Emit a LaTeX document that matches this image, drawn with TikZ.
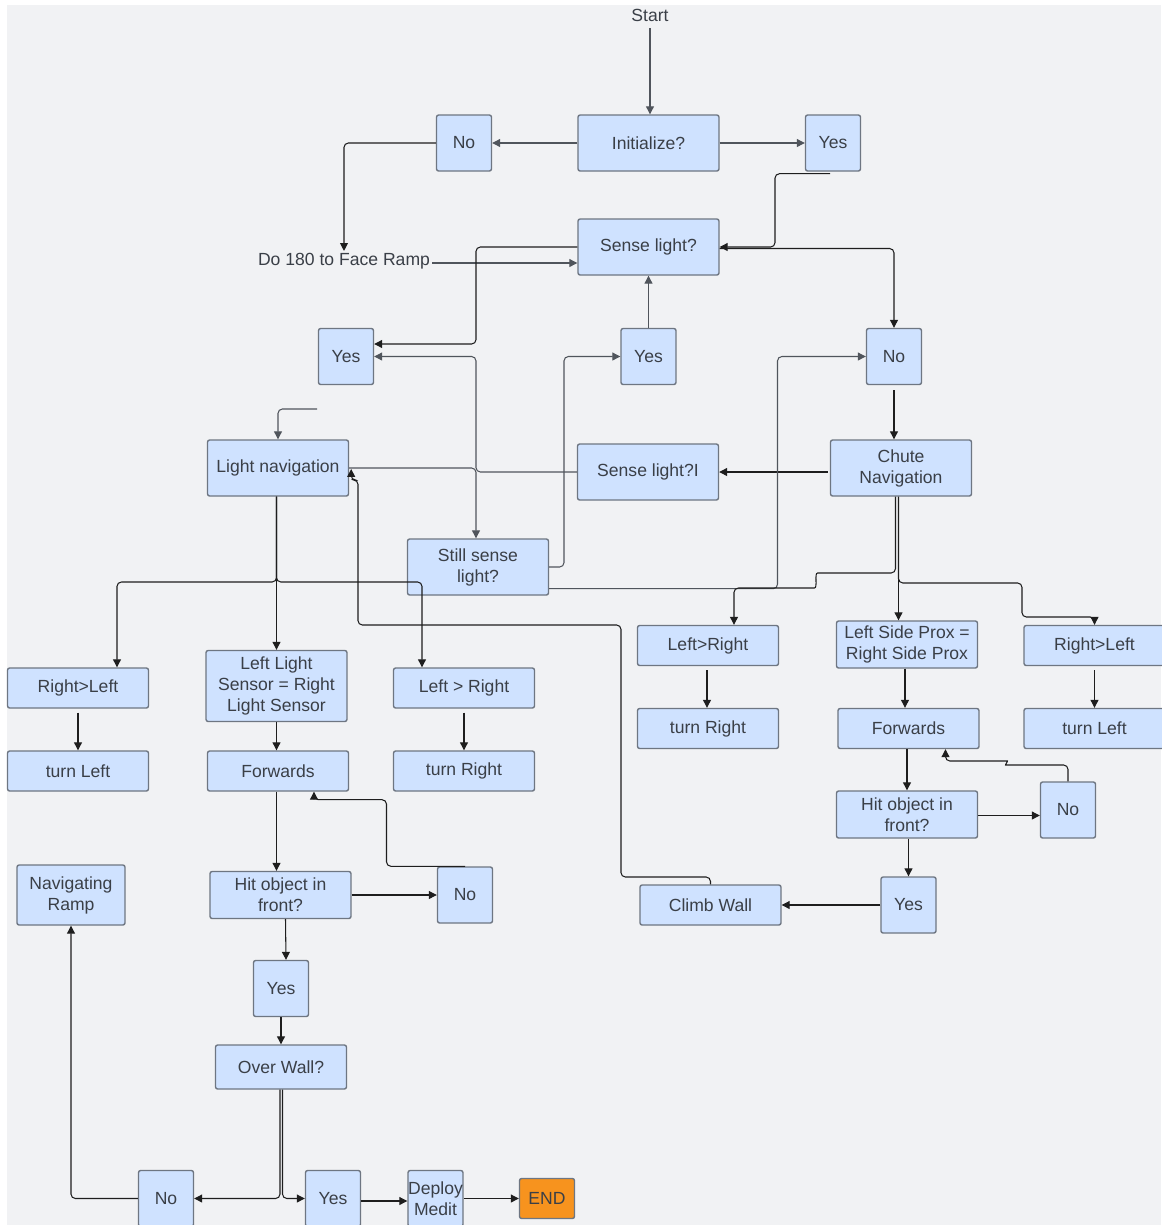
\documentclass[tikz,border=0pt]{standalone}
\usepackage{fontspec}
\setmainfont{Liberation Sans}
\usepackage{xcolor}
\usepackage{tikz}
\usetikzlibrary{arrows.meta, positioning, calc}
\definecolor{boxfill}{HTML}{CFE2FF}
\definecolor{boxline}{HTML}{6E7682}
\definecolor{boxtext}{HTML}{3A3F47}
\definecolor{panelbg}{HTML}{F1F2F4}
\definecolor{linkdark}{HTML}{1E1E1E}
\definecolor{linkgray}{HTML}{50555C}
\definecolor{endorange}{HTML}{F7931E}
\tikzset{
  flowbox/.style={
    rectangle, rounded corners=1.2pt,
    minimum width=2.82cm, minimum height=1.12cm,
    align=center, draw=boxline, line width=0.8pt,
    fill=boxfill, text=boxtext, inner sep=2pt,
    font=\fontsize{10}{12}\selectfont
  },
  flowboxSq/.style={flowbox, minimum width=1.1cm},
  flowboxFlat/.style={flowbox, minimum height=0.8cm},
  flowboxEnd/.style={flowbox, minimum width=1.1cm, minimum height=0.8cm, fill=endorange},
  plaintext/.style={text=boxtext, inner sep=1pt, font=\fontsize{10}{12}\selectfont},
  arrow/.style={-{Triangle[length=4.5pt,width=4.5pt]}, line width=0.6pt, draw=linkdark, rounded corners=2.5pt},
  arrowG/.style={arrow, draw=linkgray}
}

\begin{document}
\begin{tikzpicture}[x=0.02cm, y=-0.02cm]
  % Page and panel
  \useasboundingbox (0,0) rectangle (1161,1225);
  \fill[white] (0,0) rectangle (1161,1225);
  \fill[panelbg] (7,5) rectangle (1161,1225);

  % Start and sensing
  \node[plaintext] (start) at (650,15) {Start};
  \node[flowbox] (init) at (648.5,143) {Initialize?};
  \node[flowboxSq] (no1) at (464,143) {No};
  \node[flowboxSq] (yes1) at (833,143) {Yes};
  \node[flowbox] (sense) at (648.5,247) {Sense light?};
  \node[plaintext] (turn180) at (344,261) {Do 180 to Face Ramp};
  \node[flowboxSq] (yesA) at (346,356.5) {Yes};
  \node[flowboxSq] (yesB) at (648.5,356.5) {Yes};
  \node[flowboxSq] (noB) at (894,356.5) {No};
  \node[flowbox] (lightnav) at (278,468) {Light navigation};
  \node[flowbox] (senseI) at (648,472) {Sense light?I};
  \node[flowbox] (chute) at (901,468) {Chute\\Navigation};
  \node[flowbox] (still) at (478,567) {Still sense\\light?};

  % Light navigation branch
  \node[flowboxFlat] (rlA) at (78,688) {Right>Left};
  \node[flowbox, minimum height=1.42cm] (llsA) at (276.5,686) {Left Light\\Sensor = Right\\Light Sensor};
  \node[flowboxFlat] (lrA) at (464,688) {Left > Right};
  \node[flowboxFlat] (tlA) at (78,771) {turn Left};
  \node[flowboxFlat] (fwdA) at (278,771) {Forwards};
  \node[flowboxFlat] (trA) at (464,771) {turn Right};
  \node[flowbox, minimum height=0.94cm] (hitA) at (280.5,895) {Hit object in\\front?};
  \node[flowboxSq] (noA) at (465,895) {No};
  \node[flowbox, minimum width=2.16cm, minimum height=1.2cm] (ramp) at (71,895) {Navigating\\Ramp};
  \node[flowboxSq] (yesD) at (281,988.5) {Yes};
  \node[flowbox, minimum width=2.62cm, minimum height=0.88cm] (over) at (281,1067) {Over Wall?};
  \node[flowboxSq] (noE) at (166,1198.5) {No};
  \node[flowboxSq] (yesE) at (333,1198.5) {Yes};
  \node[flowboxSq, inner sep=0pt] (deploy) at (435.5,1198.5) {Deploy\\Medit};
  \node[flowboxEnd] (finish) at (547,1198.5) {END};

  % Chute navigation branch
  \node[flowboxFlat] (lrB) at (708,645.5) {Left>Right};
  \node[flowbox, minimum height=0.94cm] (lspB) at (907,644.5) {Left Side Prox =\\Right Side Prox};
  \node[flowboxFlat] (rlB) at (1094.5,645.5) {Right>Left};
  \node[flowboxFlat] (trB) at (708,728.5) {turn Right};
  \node[flowboxFlat] (fwdB) at (908.5,728.5) {Forwards};
  \node[flowboxFlat] (tlB) at (1094.5,728.5) {turn Left};
  \node[flowbox, minimum height=0.94cm] (hitB) at (907,814.5) {Hit object in\\front?};
  \node[flowboxSq] (noC) at (1068,810) {No};
  \node[flowboxSq] (yesC) at (908.5,905) {Yes};
  \node[flowboxFlat] (climb) at (710.5,905) {Climb Wall};

  % Arrows at the top
  \draw[arrowG] ($(start.south)+(0,5)$) -- (start.south |- init.north);
  \draw[arrowG] (init.west) -- (no1.east);
  \draw[arrowG] (init.east) -- (yes1.west);
  \draw[arrow] (no1.west) -| (turn180.north);
  \draw[arrowG] ($(turn180.east)+(0,2)$) -- ($(turn180.east -| sense.west)+(0,2)$);
  \draw[arrow] ($(yes1.south)+(-3,2)$) -| (775,210) |- (sense.east);
  \draw[arrow] (sense.west) -| (476,300) |- ($(yesA.east)+(0,-12.5)$);
  \draw[arrow] ($(sense.east)+(0,1.5)$) -| (noB.north);
  \draw[arrowG] (yesB.north) -- (sense.south);
  \draw[arrow] ($(noB.south)+(0,5)$) -- (noB.south |- chute.north);
  \draw[arrow] ($(chute.west |- senseI.east)+(-2,0)$) -- (senseI.east);
  \draw[arrowG] (senseI.west) -| (476,420) |- (yesA.east);
  \draw[arrowG] (lightnav.east) -| ($(still.north)+(-2,0)$);
  \draw[arrowG] (still.east) -| (564,450) |- (yesB.west);
  \draw[arrowG] ($(still.south east)+(0,-7)$) -| (777.5,450) |- (noB.west);

  % Arrows of the light navigation
  \coordinate (lnin) at (317,409);
  \draw[arrowG] (lnin) -| (lightnav.north);
  \draw[arrow] (llsA.north |- lightnav.south) -- (llsA.north);
  \draw[arrow] (llsA.north |- lightnav.south) -- (276.5,582) -| ($(rlA.north)+(39,0)$);
  \draw[arrow] (llsA.north |- lightnav.south) -- (276.5,582) -| ($(lrA.north)+(-42,0)$);
  \draw[arrow] ($(rlA.south)+(0,4)$) -- (tlA.north);
  \draw[arrow] (llsA.south) -- (llsA.south |- fwdA.north);
  \draw[arrow] ($(lrA.south)+(0,4)$) -- (trA.north);
  \draw[arrow] (fwdA.south -| llsA.south) -- (hitA.north -| llsA.south);
  \draw[arrow] (hitA.east) -- (hitA.east -| noA.west);
  \draw[arrow] (noA.north) -| (386.5,830) |- ($(fwdA.south)+(36,8)$) -- ($(fwdA.south)+(36,0)$);
  \draw[arrow] ($(hitA.south)+(5,0)$) -- ($(yesD.north)+(5,0)$);
  \draw[arrow] (yesD.south) -- (over.north);
  \draw[arrow] ($(over.south)+(-1,0)$) |- (noE.east);
  \draw[arrow] ($(over.south)+(1.5,0)$) |- (yesE.west);
  \draw[arrow] (noE.west) -| (ramp.south);
  \draw[arrow] ($(yesE.east)+(0,2.5)$) -- ($(deploy.west)+(0,2.5)$);
  \draw[arrow] (deploy.east) -- (finish.west);

  % Arrows of the chute navigation
  \draw[arrow] ($(chute.south)+(-5.5,0)$) -- (895.5,573) -- (822,573)
    .. controls (814,573) and (818,588) .. (810,588) -- (734,588) -- ($(lrB.north)+(26,0)$);
  \draw[arrow] ($(chute.south)+(-2.5,0)$) -- ($(lspB.north)+(-8.5,0)$);
  \draw[arrow] ($(chute.south)+(-2.5,0)$) -- (898.5,583) -- (1022,583) -- (1022,617) -| (rlB.north);
  \draw[arrow] ($(lrB.south)+(-1,4)$) -- ($(trB.north)+(-1,0)$);
  \draw[arrow] ($(lspB.south)+(-2,0)$) -- ($(lspB.south |- fwdB.north)+(-2,0)$);
  \draw[arrow] ($(rlB.south)+(0,4)$) -- (tlB.north);
  \draw[arrow] (hitB.north |- fwdB.south) -- (hitB.north);
  \draw[arrow] ($(hitB.east)+(0,1)$) -- ($(hitB.east -| noC.west)+(0,1)$);
  \draw[arrow] (noC.north) |- (1010,765) .. controls (1005,765) and (1008,761) .. (1003,761)
    -| ($(fwdB.south)+(37,0)$);
  \draw[arrow] (yesC.north |- hitB.south) -- (yesC.north);
  \draw[arrow] (yesC.west) -- (climb.east);
  \draw[arrow] (climb.north) -- (710.5,877) -- (621,877) -- (621,625) -- (358,625)
    |- ($(lightnav.east)+(2,12)$) -- ($(lightnav.east)+(2,1)$);
\end{tikzpicture}
\end{document}
